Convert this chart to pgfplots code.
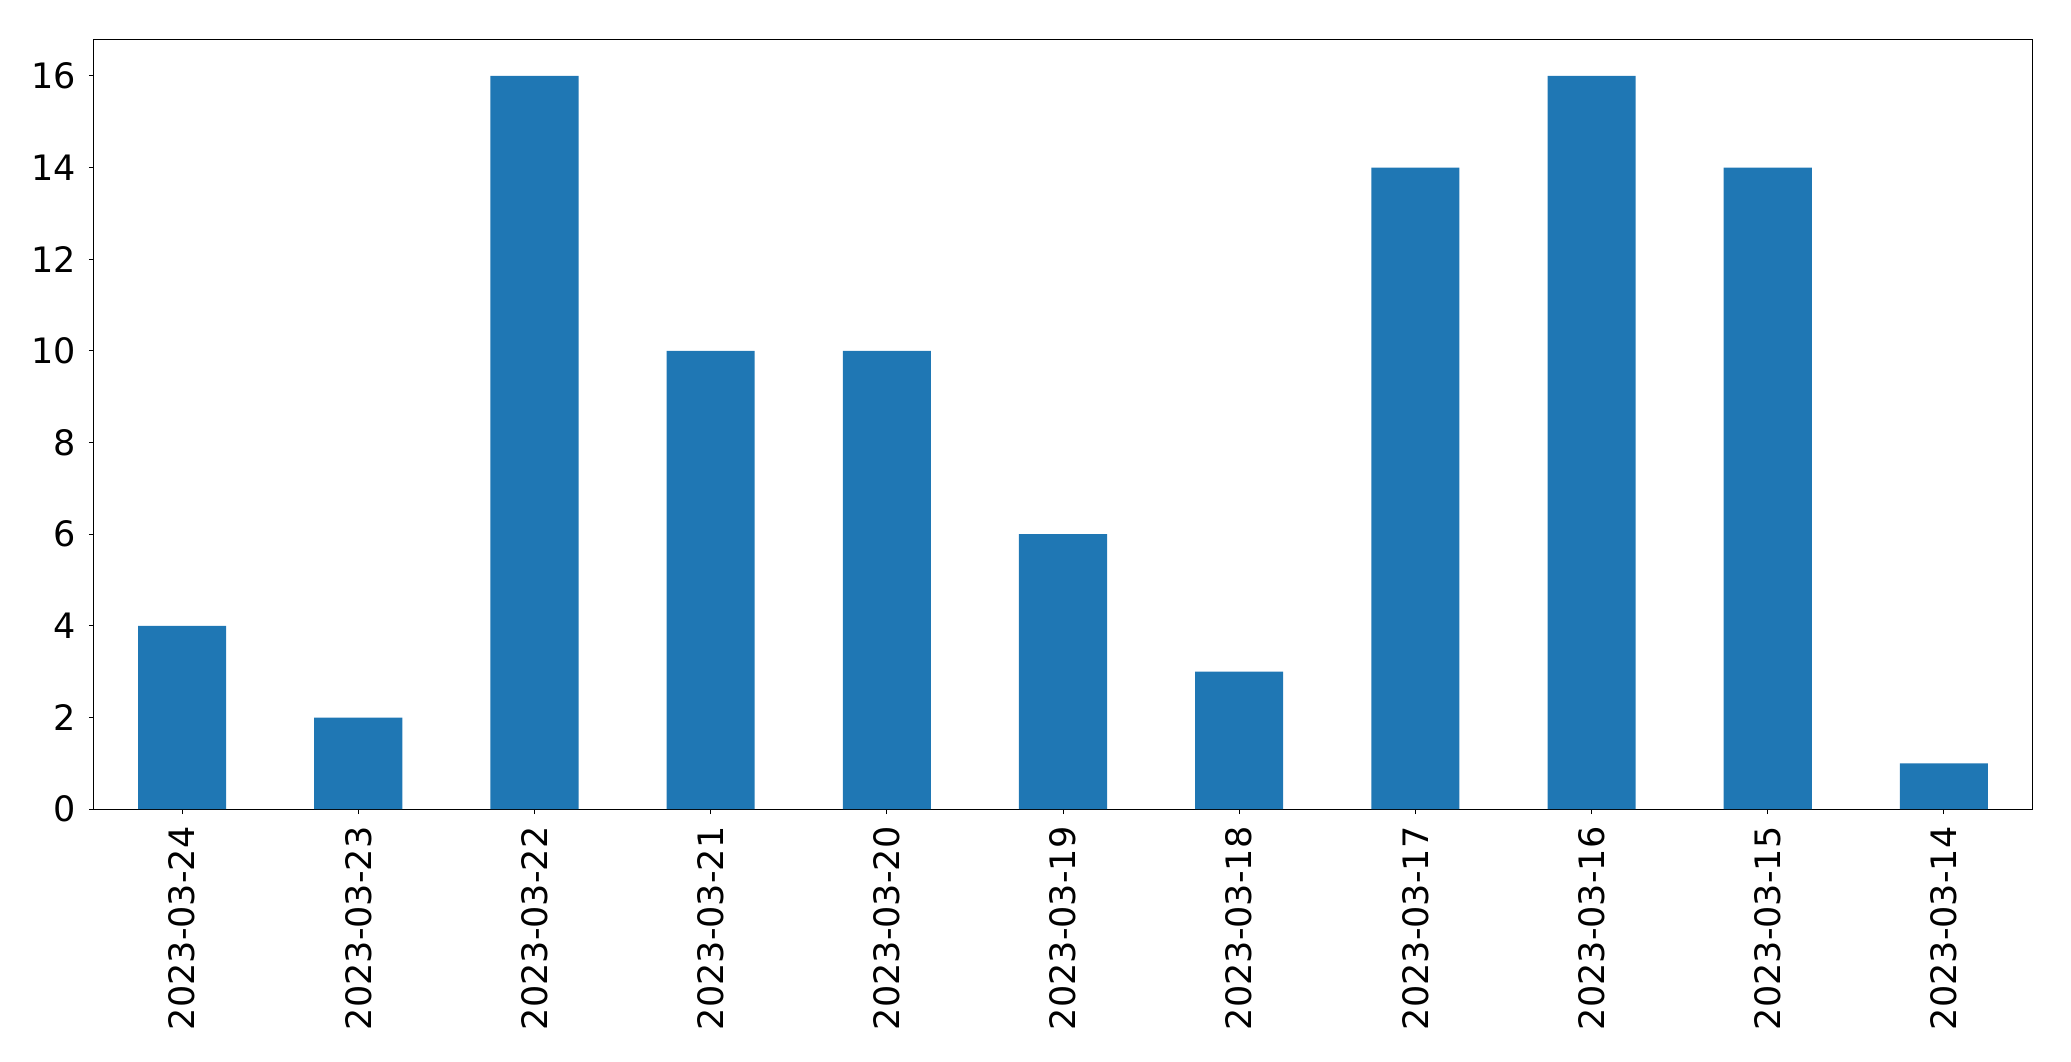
\documentclass[border=0pt]{standalone}
\usepackage{pgfplots}
\pgfplotsset{compat=1.18}
\usepackage{fontspec}
\setmainfont{DejaVu Sans}
\definecolor{mplblue}{HTML}{1F77B4}
\begin{document}
\begin{tikzpicture}
\begin{axis}[
  scale only axis,
  width=969pt, height=385pt,
  xmin=-0.5, xmax=10.5, ymin=0, ymax=16.8,
  xtick={0,...,10},
  xticklabels={2023-03-24,2023-03-23,2023-03-22,2023-03-21,2023-03-20,2023-03-19,2023-03-18,2023-03-17,2023-03-16,2023-03-15,2023-03-14},
  ytick={0,2,...,16},
  x tick label style={rotate=90, anchor=east, inner sep=0pt, xshift=0pt, yshift=0pt},
  xticklabel shift=6pt,
  yticklabel shift=3pt,
  tick label style={font=\fontsize{17.5}{21}\selectfont},
  /pgf/number format/assume math mode=true,
  tick align=outside, major tick length=2.5pt,
  tick pos=left,
  axis line style={line width=0.5pt},
  every tick/.style={black, line width=0.5pt},
  ybar, bar width=0.5, bar shift=0pt,
]
\addplot[fill=mplblue, draw=none] coordinates {
(0,4) (1,2) (2,16) (3,10) (4,10) (5,6) (6,3) (7,14) (8,16) (9,14) (10,1)};
\end{axis}
\path (current axis.south west) ++(-47pt,-126pt) coordinate (bl);
\path (current axis.north east) ++(19.5pt,19.6pt) coordinate (tr);
\path (bl) rectangle (tr);
\end{tikzpicture}
\end{document}
